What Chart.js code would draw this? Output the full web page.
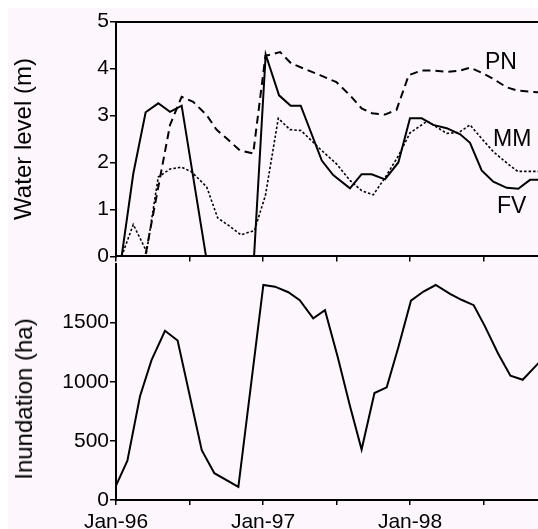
<!DOCTYPE html>
<html>
<head>
<meta charset="utf-8">
<script src="https://cdn.jsdelivr.net/npm/chart.js@4/dist/chart.umd.min.js"></script>
<style>
  html, body { margin: 0; padding: 0; background: #ffffff; width: 538px; height: 529px; overflow: hidden; }
  #panel { position: absolute; left: 8px; top: 8px; width: 530px; height: 521px; background: #fdf7fd; }
  canvas { position: absolute; }
  #cTop { left: 8px; top: 8px; z-index: 2; }
  #cBot { left: 8px; top: 250px; z-index: 1; }
  .lbl { position: absolute; font-family: Arial, "Liberation Sans", sans-serif; font-size: 23px; line-height: 23px; color: #000; z-index: 3; white-space: nowrap; }
  .ytitle { position: absolute; font-family: Arial, "Liberation Sans", sans-serif; font-size: 24px; color: #000; white-space: nowrap; transform: translate(-50%, -50%) rotate(-90deg); z-index: 3; }
</style>
</head>
<body>
<div id="panel"></div>
<canvas id="cTop" width="530" height="262"></canvas>
<canvas id="cBot" width="530" height="279"></canvas>
<div class="lbl" style="left:485px; top:50px;">PN</div>
<div class="lbl" style="left:493px; top:127px;">MM</div>
<div class="lbl" style="left:497px; top:194px;">FV</div>
<div class="ytitle" style="left:24px; top:399px;">Inundation (ha)</div>
<script>
// ---- Data (x positions in months since Jan-96) ----
const xTickValues = [0, 6, 12, 18, 24, 30];
const xTickLabels = ['Jan-96', '', 'Jan-97', '', 'Jan-98', ''];
const xMin = 0;
const xMax = 34.45;

const levelTicks = [0, 1, 2, 3, 4, 5];
const inundTicks = [0, 500, 1000, 1500];

const fvMonths = [0.46, 1.41, 2.42, 3.45, 4.41, 5.36, 7.35, 11.27, 12.22, 13.31, 14.26, 15.08, 16.8, 17.73, 19.1, 20.05, 20.87, 21.96, 23.05, 24.0, 24.96, 25.9, 27.0, 28.1, 28.9, 29.85, 30.8, 31.9, 32.84, 33.8, 34.6];
const fvLevels = [0, 1.76, 3.07, 3.26, 3.08, 3.21, 0, 0, 4.30, 3.43, 3.21, 3.21, 2.04, 1.73, 1.45, 1.75, 1.75, 1.64, 2.0, 2.94, 2.94, 2.80, 2.73, 2.60, 2.42, 1.83, 1.59, 1.46, 1.44, 1.63, 1.63];

const pnMonths = [2.42, 4.41, 5.36, 6.3, 7.4, 8.2, 9.0, 10.1, 11.2, 12.2, 13.4, 14.3, 16.65, 18.0, 19.1, 20.05, 20.9, 21.96, 22.9, 23.9, 24.96, 25.9, 27.0, 28.0, 28.9, 29.85, 30.8, 31.9, 32.8, 34.6];
const pnLevels = [0.05, 2.8, 3.40, 3.29, 3.01, 2.70, 2.52, 2.26, 2.19, 4.27, 4.35, 4.11, 3.86, 3.71, 3.43, 3.15, 3.05, 3.02, 3.12, 3.86, 3.96, 3.96, 3.93, 3.95, 4.02, 3.91, 3.78, 3.60, 3.53, 3.49];

const mmMonths = [0.46, 1.41, 2.5, 3.45, 4.41, 5.36, 6.17, 7.4, 8.3, 9.3, 10.2, 11.3, 12.2, 13.25, 14.2, 15.1, 16.65, 18.0, 19.1, 20.05, 21.0, 22.0, 23.05, 24.0, 25.4, 27.0, 28.0, 28.9, 29.85, 30.8, 31.9, 32.8, 34.6];
const mmLevels = [0, 0.68, 0.1, 1.69, 1.86, 1.90, 1.80, 1.48, 0.82, 0.64, 0.46, 0.55, 1.30, 2.94, 2.70, 2.68, 2.29, 1.97, 1.62, 1.40, 1.31, 1.69, 2.14, 2.63, 2.88, 2.62, 2.64, 2.80, 2.51, 2.23, 1.99, 1.81, 1.81];

const inMonths = [0, 0.93, 1.96, 2.9, 4.0, 5.03, 7.0, 8.03, 9.99, 12.03, 12.98, 14.07, 15.0, 16.1, 17.06, 18.1, 19.1, 20.05, 21.1, 22.1, 23.05, 24.08, 25.1, 26.1, 27.27, 28.2, 29.2, 30.1, 31.2, 32.2, 33.2, 34.6];
const inArea = [122, 332, 878, 1183, 1432, 1349, 421, 227, 111, 1819, 1805, 1758, 1690, 1537, 1606, 1210, 795, 427, 905, 953, 1293, 1686, 1764, 1819, 1744, 1694, 1648, 1473, 1238, 1052, 1017, 1170];

// ---- Helpers ----
const FONT = 'Arial, "Liberation Sans", sans-serif';
Chart.defaults.font.family = FONT;
Chart.defaults.color = '#000';

function pts(xs, ys) { return xs.map((x, i) => ({ x: x, y: ys[i] })); }
function lineDs(label, xs, ys, yAxisID, dash, width) {
  return {
    label: label, data: pts(xs, ys), yAxisID: yAxisID,
    borderColor: '#000', backgroundColor: '#000', borderWidth: width,
    borderDash: dash, pointRadius: 0, tension: 0, fill: false
  };
}
const plainNum = v => String(v);
const axisBorder = { display: true, color: '#000', width: 2 };
const commonPlugins = { legend: { display: false }, tooltip: { enabled: false } };

// ---- Top chart: water levels ----
new Chart(document.getElementById('cTop'), {
  type: 'line',
  data: {
    datasets: [
      lineDs('PN', pnMonths, pnLevels, 'y', [8, 5], 2),
      lineDs('MM', mmMonths, mmLevels, 'y', [2.5, 2], 1.6),
      lineDs('FV', fvMonths, fvLevels, 'y', [], 2)
    ]
  },
  options: {
    responsive: false, animation: false, devicePixelRatio: 1,
    layout: { padding: 0 },
    plugins: commonPlugins,
    scales: {
      x: {
        type: 'linear', position: 'bottom', min: xMin, max: xMax,
        afterBuildTicks: s => { s.ticks = xTickValues.map(v => ({ value: v })); },
        afterFit: s => { s.height = 12; },
        ticks: { display: false },
        grid: { drawOnChartArea: false, drawTicks: true, tickLength: 5, color: '#000', lineWidth: 1.5 },
        border: axisBorder
      },
      x2: {
        type: 'linear', position: 'top', display: true, min: xMin, max: xMax,
        afterFit: s => { s.height = 10; },
        ticks: { display: false },
        grid: { display: false, drawTicks: false },
        border: axisBorder
      },
      y: {
        type: 'linear', position: 'left', min: 0, max: 5,
        afterBuildTicks: s => { s.ticks = levelTicks.map(v => ({ value: v })); },
        afterFit: s => { s.width = 108; },
        ticks: { font: { size: 21 }, color: '#000', padding: 1, callback: plainNum },
        grid: { drawOnChartArea: false, drawTicks: true, tickLength: 6, color: '#000', lineWidth: 1.5 },
        border: axisBorder,
        title: { display: true, text: 'Water level (m)', font: { size: 24 }, color: '#000', padding: { top: 2, bottom: 0 } }
      }
    }
  }
});

// ---- Bottom chart: inundation ----
new Chart(document.getElementById('cBot'), {
  type: 'line',
  data: {
    datasets: [ lineDs('Inundation', inMonths, inArea, 'y', [], 2) ]
  },
  options: {
    responsive: false, animation: false, devicePixelRatio: 1,
    layout: { padding: { top: 8, left: 0, right: 0, bottom: 0 } },
    plugins: commonPlugins,
    scales: {
      x: {
        type: 'linear', position: 'bottom', min: xMin, max: xMax,
        afterBuildTicks: s => { s.ticks = xTickValues.map(v => ({ value: v })); },
        afterFit: s => { s.height = 29; },
        ticks: {
          autoSkip: false, maxRotation: 0, font: { size: 21 }, color: '#000', padding: 5,
          callback: (v) => { const i = xTickValues.indexOf(v); return i >= 0 ? xTickLabels[i] : ''; }
        },
        grid: { drawOnChartArea: false, drawTicks: true, tickLength: 5, color: '#000', lineWidth: 1.5 },
        border: axisBorder
      },
      y: {
        type: 'linear', position: 'left', min: 0, max: 2000,
        afterBuildTicks: s => { s.ticks = inundTicks.map(v => ({ value: v })); },
        afterFit: s => { s.width = 108; },
        ticks: { font: { size: 21 }, color: '#000', padding: 1, callback: plainNum },
        grid: { drawOnChartArea: false, drawTicks: true, tickLength: 6, color: '#000', lineWidth: 1.5 },
        border: axisBorder
      }
    }
  }
});
</script>
</body>
</html>
